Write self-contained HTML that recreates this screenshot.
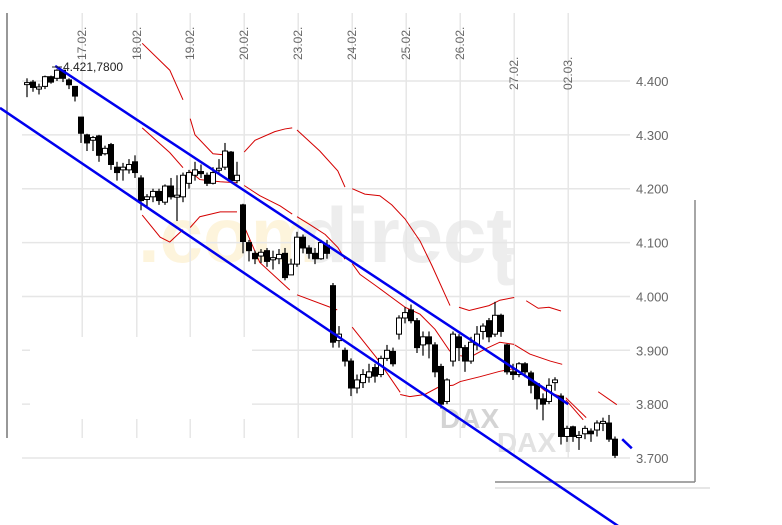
<!DOCTYPE html>
<html><head><meta charset="utf-8"><style>
html,body{margin:0;padding:0;background:#fff;}
svg{display:block;font-family:"Liberation Sans",sans-serif;}
</style></head><body>
<svg id="chart" width="782" height="525" viewBox="0 0 782 525" xmlns="http://www.w3.org/2000/svg">
<g id="wm">
<text x="138" y="262" font-size="78" font-weight="bold" fill="#fdf4dc">.com</text>
<text x="300" y="262" font-size="78" font-weight="bold" fill="#ededed">direct</text>
<text x="492" y="285" font-size="70" font-weight="bold" fill="#ededed">t</text>
</g>
<g id="grid"></g>
<rect x="30" y="337" width="222" height="82" fill="#fff"/>
<line x1="7" y1="13" x2="7" y2="438" stroke="#777" stroke-width="1.5"/>
<line x1="695" y1="200" x2="695" y2="482" stroke="#888" stroke-width="1.5"/>
<line x1="495" y1="482" x2="695" y2="482" stroke="#888" stroke-width="1.5"/>
<line x1="495" y1="488" x2="710" y2="488" stroke="#ccc" stroke-width="1"/>
<text x="440" y="428" font-size="28" font-weight="bold" fill="#d4d4d4">DAX</text>
<text x="497" y="452" font-size="28" font-weight="bold" fill="#e2e2e2">DAX I</text>
<g id="bands"></g>
<g id="candles"></g>
<g id="channel"></g>
<g id="labels"></g>
<text x="63" y="71" font-size="12" fill="#222">4.421,7800</text>
<line x1="52" y1="67" x2="62" y2="67" stroke="#222"/>
</svg>
<script>
const yTicks=[4400,4300,4200,4100,4000,3900,3800,3700];
const yTickLabels=["4.400","4.300","4.200","4.100","4.000","3.900","3.800","3.700"];
const dayLabels=["17.02.","18.02.","19.02.","20.02.","23.02.","24.02.","25.02.","26.02.","27.02.","02.03."];
const dayIndex=[9.2,18.3,27.2,36.2,45.2,54.2,63.2,72.2,81.2,90.2];
const opens=[4395,4398,4385,4390,4408,4405,4420,4402,4390,4333,4300,4290,4298,4265,4282,4240,4235,4235,4250,4220,4180,4185,4195,4175,4205,4185,4185,4210,4225,4232,4225,4210,4235,4240,4268,4215,4170,4100,4080,4075,4085,4068,4070,4080,4040,4060,4110,4090,4080,4070,4095,4020,3918,3900,3880,3830,3840,3850,3868,3855,3885,3898,3930,3960,3975,3955,3910,3925,3910,3870,3805,3880,3925,3905,3880,3910,3935,3955,3930,3965,3910,3860,3855,3875,3858,3838,3810,3805,3840,3815,3740,3758,3738,3745,3750,3752,3765,3765,3735];
const closes=[4397,4388,4389,4408,4398,4420,4405,4393,4372,4303,4285,4295,4262,4275,4245,4230,4240,4245,4230,4178,4185,4195,4178,4205,4185,4188,4225,4230,4235,4228,4210,4230,4238,4270,4215,4225,4102,4085,4070,4082,4065,4072,4078,4035,4060,4110,4090,4080,4070,4100,4080,3915,3930,3880,3830,3845,3855,3860,3852,3885,3900,3875,3960,3970,3955,3905,3925,3912,3860,3800,3845,3930,3905,3880,3915,3930,3945,3925,3965,3935,3860,3855,3875,3860,3835,3810,3800,3835,3845,3740,3755,3740,3742,3755,3745,3765,3768,3735,3705];
const highs=[4405,4402,4395,4410,4410,4422,4418,4405,4388,4333,4302,4298,4300,4280,4285,4250,4248,4255,4262,4225,4190,4200,4200,4208,4220,4225,4230,4235,4250,4245,4230,4240,4255,4285,4270,4250,4172,4105,4085,4088,4090,4085,4088,4090,4070,4120,4115,4095,4090,4105,4105,4025,3945,3905,3885,3855,3865,3875,3875,3890,3910,3905,3965,3980,3985,3960,3935,3935,3915,3875,3848,3935,3930,3910,3925,3945,3950,3960,3990,3968,3912,3875,3878,3878,3862,3840,3820,3848,3850,3820,3760,3760,3750,3760,3755,3770,3775,3780,3740];
const lows=[4370,4380,4375,4385,4395,4400,4398,4385,4362,4285,4270,4270,4250,4262,4235,4215,4215,4228,4220,4160,4165,4175,4170,4170,4180,4140,4175,4200,4215,4220,4205,4208,4230,4235,4212,4210,4080,4065,4060,4062,4055,4050,4060,4030,4040,4055,4080,4070,4060,4068,4070,3905,3905,3870,3815,3820,3830,3840,3840,3850,3880,3870,3920,3950,3950,3895,3890,3885,3850,3792,3800,3870,3880,3860,3875,3900,3920,3915,3925,3925,3855,3845,3850,3850,3820,3790,3770,3800,3825,3725,3730,3730,3715,3735,3730,3740,3750,3730,3700];
const upperBand=[[[19.2,4470],[23.8,4420],[26,4365]],[[27.2,4330],[28,4300],[31,4265],[33.8,4262]],[[36.2,4268],[38,4290],[41.3,4306],[43,4311],[44.2,4313]],[[45,4309],[48.8,4270],[51.8,4233],[53,4203]],[[54.2,4200],[56.3,4190],[58.8,4187],[60.8,4170],[63,4144],[65.5,4103],[67.5,4057],[70.5,3983]],[[72,3980],[73.7,3974],[77,3983],[78.8,3993],[81.2,3998]],[[83.2,3992],[85.2,3978],[87,3980],[89,3973]],[[95.2,3823],[98.3,3799]]];
const midBand=[[[19.2,4313],[23.8,4267],[26,4239]],[[27.2,4232],[28.8,4217],[32.2,4213],[35,4211]],[[36.2,4206],[38.8,4187],[42.2,4168],[44.2,4153]],[[45,4148],[47.2,4133],[49.7,4115],[51.8,4091],[53,4069]],[[54.2,4061],[55.5,4041],[58,4021],[60.8,3998],[63,3980],[65.5,3967],[68,3939],[70.5,3898]],[[72.2,3890],[73.8,3887],[76.3,3902],[78.8,3915],[81.2,3911]],[[81.3,3910],[83.8,3893],[87.2,3880],[89.2,3874]],[[89.8,3812],[93.2,3775]]];
const lowerBand=[[[19.2,4151],[22.2,4110],[23.8,4101],[26,4124]],[[27.2,4128],[28.8,4148],[32.2,4157],[35,4157]],[[36,4135],[38.8,4063],[43.8,4012]],[[45,4003],[51.7,3975]],[[54.2,3943],[58.2,3887],[62.2,3822]],[[62.2,3818],[63.8,3814],[66.3,3818],[68.8,3833],[71,3835],[72.2,3842],[75.5,3851],[78.8,3861],[81.2,3866]],[[81.3,3862],[83.8,3848],[86.3,3825],[89,3814]],[[89.8,3808],[92.7,3771]]];
const channelUpperA=[[4.7,4428],[90.2,3800]];
const channelUpperB=[[99.2,3735],[100.8,3718]];
const channelLower=[[-4.5,4350],[98.5,3574]];

const NS="http://www.w3.org/2000/svg";
function yScale(v){return 81+(4400-v)*0.5386;}
function xScale(i){return 27+i*6;}
function mk(tag,attrs,parent){const e=document.createElementNS(NS,tag);for(const k in attrs)e.setAttribute(k,attrs[k]);parent.appendChild(e);return e;}
const grid=document.getElementById('grid');
yTicks.forEach((v,k)=>{
  const l=mk('line',{x1:22,x2:630,y1:yScale(v),y2:yScale(v),stroke:'#e6e6e6','stroke-width':1.5},grid);
  
  
  const t=mk('text',{x:636,y:yScale(v)+5,'font-size':13,fill:'#666'},document.getElementById('labels'));
  t.textContent=yTickLabels[k];
  
  
});
dayIndex.forEach((d,k)=>{
  const x=xScale(d);
  const l=mk('line',{x1:x,x2:x,y1:13,y2:k>=8?458:438,stroke:'#e6e6e6','stroke-width':1.5},grid);
  
  
  const t=mk('text',{x:0,y:0,'font-size':12,fill:'#666',transform:'translate('+(x+4)+','+(k>=8?90:60)+') rotate(-90)'},document.getElementById('labels'));
  t.textContent=dayLabels[k];
  
  
});
const bands=document.getElementById('bands');
[upperBand,midBand,lowerBand].forEach(b=>b.forEach(seg=>{
  const p=mk('polyline',{points:seg.map(q=>xScale(q[0])+','+yScale(q[1])).join(' '),fill:'none',stroke:'#d40000','stroke-width':1},bands);
  
  
}));
const cg=document.getElementById('candles');
opens.forEach((o,i)=>{
  const c=closes[i],x=xScale(i);
  const w=mk('line',{x1:x,x2:x,y1:yScale(highs[i]),y2:yScale(lows[i]),stroke:'#000','stroke-width':1.2},cg);
  
  
  const top=yScale(Math.max(o,c)),h=Math.max(2,Math.abs(yScale(o)-yScale(c)));
  const up=c>=o;
  const r=mk('rect',{x:x-2.5,y:top,width:5,height:h,fill:up?'#fff':'#000',stroke:'#000','stroke-width':1},cg);
  
  
});
const ch=document.getElementById('channel');
[channelUpperA,channelUpperB,channelLower].forEach(l=>{
  const e=mk('line',{x1:xScale(l[0][0]),y1:yScale(l[0][1]),x2:xScale(l[1][0]),y2:yScale(l[1][1]),stroke:'#0000ee','stroke-width':2.5},ch);
  
  
});
</script>
</body></html>
